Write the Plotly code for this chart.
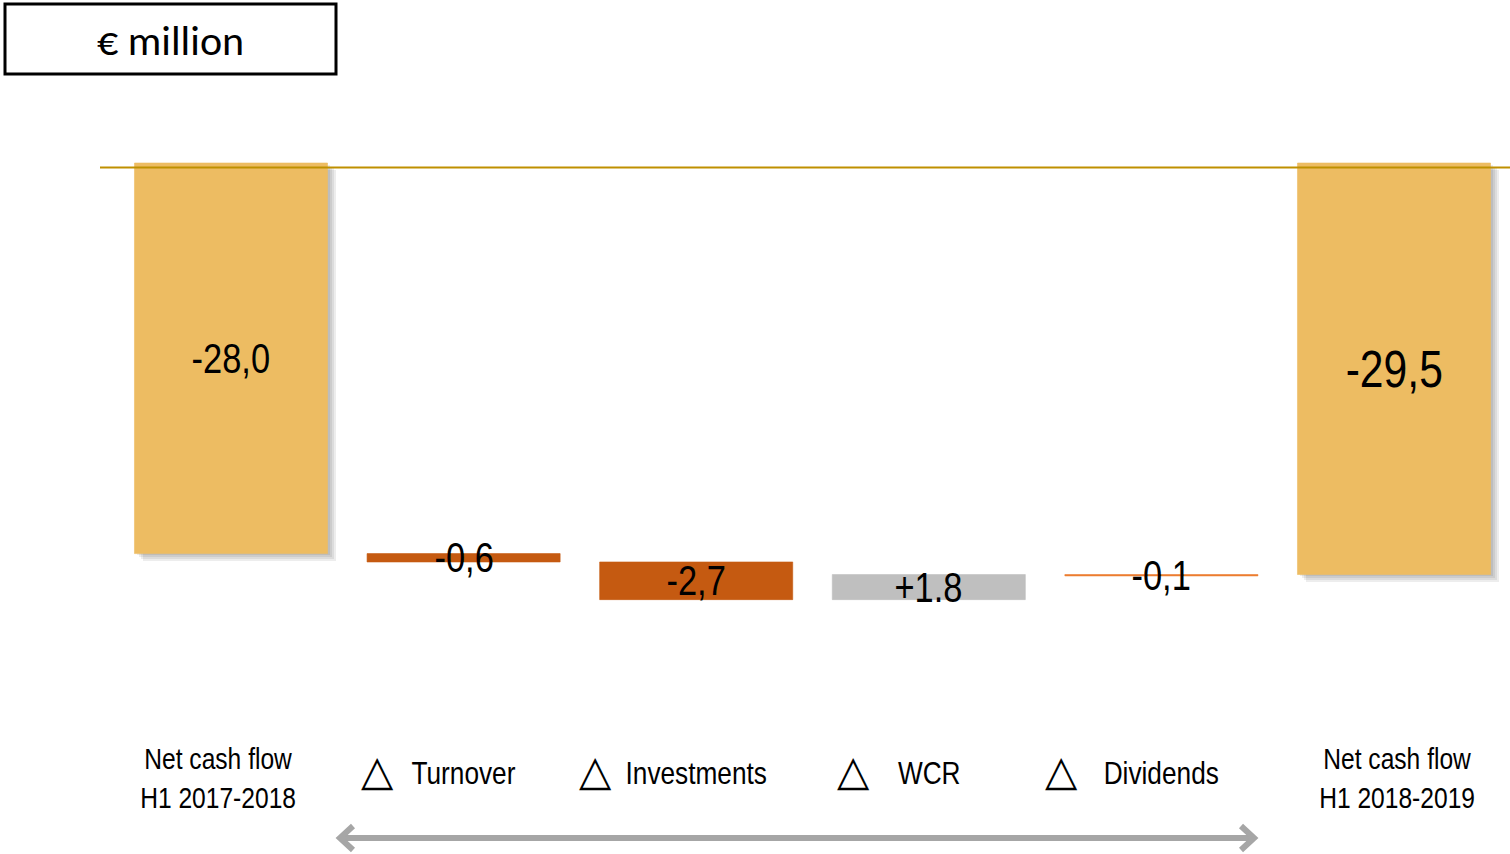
import plotly.graph_objects as go

# Net cash flow bridge, € million
categories = ["Net cash flow<br>H1 2017-2018", "Turnover", "Investments", "WCR",
              "Dividends", "Net cash flow<br>H1 2018-2019"]
values = [-28.0, -0.6, -2.7, 1.8, -0.1, -29.5]
measures = ["absolute", "relative", "relative", "relative", "relative", "absolute"]
value_labels = ["-28,0", "-0,6", "-2,7", "+1.8", "-0,1", "-29,5"]
bar_colors = ["#EDBC62", "#C55A11", "#C55A11", "#BFBFBF", "#ED7D31", "#EDBC62"]

W, H = 1510, 854
NARROW = "Liberation Sans, Arial, sans-serif"
BAR_W = 0.83
PX_PER_X = 232.6     # pixels per category step
PX_PER_Y = 13.95     # pixels per € million


def px(x):
    return x / W


def py(y):
    return 1 - y / H


# bridge bases: totals hang from zero, deltas continue from the running total
bases, running = [], 0.0
for v, m in zip(values, measures):
    if m == "absolute":
        bases.append(0.0)
        running = v
    else:
        bases.append(running)
        running += v

xs = list(range(len(categories)))

fig = go.Figure()

# soft drop shadow behind the two total bars
tot = [i for i, m in enumerate(measures) if m == "absolute"]
for k in range(1, 5):
    dx = k * 2.2 / PX_PER_X
    dy = k * 1.8 / PX_PER_Y
    fig.add_trace(go.Bar(
        x=[xs[i] for i in tot], y=[values[i] for i in tot],
        base=[bases[i] - dy for i in tot],
        width=BAR_W, offset=-BAR_W / 2 + dx,
        marker=dict(color="rgba(0,0,0,0.07)", line=dict(width=0)),
        hoverinfo="skip", showlegend=False,
    ))

fig.add_trace(go.Bar(
    x=xs, y=values, base=bases, width=BAR_W, offset=-BAR_W / 2,
    marker=dict(color=bar_colors, line=dict(width=0.6, color=bar_colors)),
    hoverinfo="skip", showlegend=False,
))

annotations = []
# value labels centred on each bar
for i, (b, v, t) in enumerate(zip(bases, values, value_labels)):
    size = 52 if i == len(values) - 1 else 42
    annotations.append(dict(
        x=i, y=b + v / 2, xref="x", yref="y", text=t, showarrow=False,
        font=dict(family=NARROW, size=size, color="#000000"),
        xanchor="center", yanchor="middle",
    ))

# category labels under the bars; change categories get a delta triangle on the left
triangle_offsets = {1: -86, 2: -101, 3: -75, 4: -100}
for i, c in enumerate(categories):
    if "<br>" in c:
        annotations.append(dict(
            x=i, y=py(778), xref="x", yref="paper", text=c, showarrow=False,
            font=dict(family=NARROW, size=30, color="#000000"),
            xanchor="center", yanchor="middle", xshift=(-13 if i == 0 else 3),
        ))
    else:
        annotations.append(dict(
            x=i, y=py(773), xref="x", yref="paper", text=c, showarrow=False,
            font=dict(family=NARROW, size=32, color="#000000"),
            xanchor="center", yanchor="middle",
        ))
        annotations.append(dict(
            x=i, y=py(770), xref="x", yref="paper", text="△", showarrow=False,
            font=dict(family="DejaVu Sans", size=42, color="#000000"),
            xanchor="center", yanchor="middle", xshift=triangle_offsets[i],
        ))

# unit box caption
annotations.append(dict(
    x=px(170), y=py(40), xref="paper", yref="paper", text="€ million",
    showarrow=False, font=dict(family="Carlito, Lato, sans-serif", size=42, color="#000000"),
    xanchor="center", yanchor="middle",
))

shapes = [
    # unit box
    dict(type="rect", xref="paper", yref="paper", x0=px(5), x1=px(336),
         y0=py(4), y1=py(74), line=dict(color="#000000", width=3), fillcolor="rgba(0,0,0,0)"),
    # reference line across the top of the bars
    dict(type="line", xref="paper", yref="paper", x0=px(100), x1=px(1510),
         y0=py(167.5), y1=py(167.5), line=dict(color="#BF9000", width=2), layer="above"),
    # double-headed arrow under the change categories
    dict(type="line", xref="paper", yref="paper", x0=px(342), x1=px(1252),
         y0=py(838), y1=py(838), line=dict(color="#A6A6A6", width=6)),
    dict(type="path", xref="paper", yref="paper",
         path=f"M {px(353)},{py(826)} L {px(340)},{py(838)} L {px(353)},{py(850)}",
         line=dict(color="#A6A6A6", width=6)),
    dict(type="path", xref="paper", yref="paper",
         path=f"M {px(1241)},{py(826)} L {px(1254)},{py(838)} L {px(1241)},{py(850)}",
         line=dict(color="#A6A6A6", width=6)),
]

# axis ranges: zero sits at y=163 px; first category centred at x=231 px
y_top = 163 / PX_PER_Y
y_bot = -(H - 163) / PX_PER_Y
x_left = -231 / PX_PER_X
x_right = (W - 231) / PX_PER_X

fig.update_layout(
    width=W, height=H,
    margin=dict(l=0, r=0, t=0, b=0),
    paper_bgcolor="#FFFFFF", plot_bgcolor="#FFFFFF",
    xaxis=dict(range=[x_left, x_right], visible=False, fixedrange=True),
    yaxis=dict(range=[y_bot, y_top], visible=False, fixedrange=True),
    annotations=annotations, shapes=shapes,
    barmode="overlay", bargap=0,
)

# condense the Arial-style labels horizontally (narrow face look)
condense_js = """
var gd = document.getElementById('{plot_id}');
gd.querySelectorAll('g.annotation text.annotation-text').forEach(function (t) {
  if ((t.style.fontFamily || '').indexOf('Liberation Sans') !== -1) {
    t.style.transformBox = 'fill-box';
    t.style.transformOrigin = 'center';
    t.style.transform = 'scaleX(0.82)';
  }
});
"""

fig.write_html("out.html", config={"displayModeBar": False, "staticPlot": True},
               post_script=condense_js)
